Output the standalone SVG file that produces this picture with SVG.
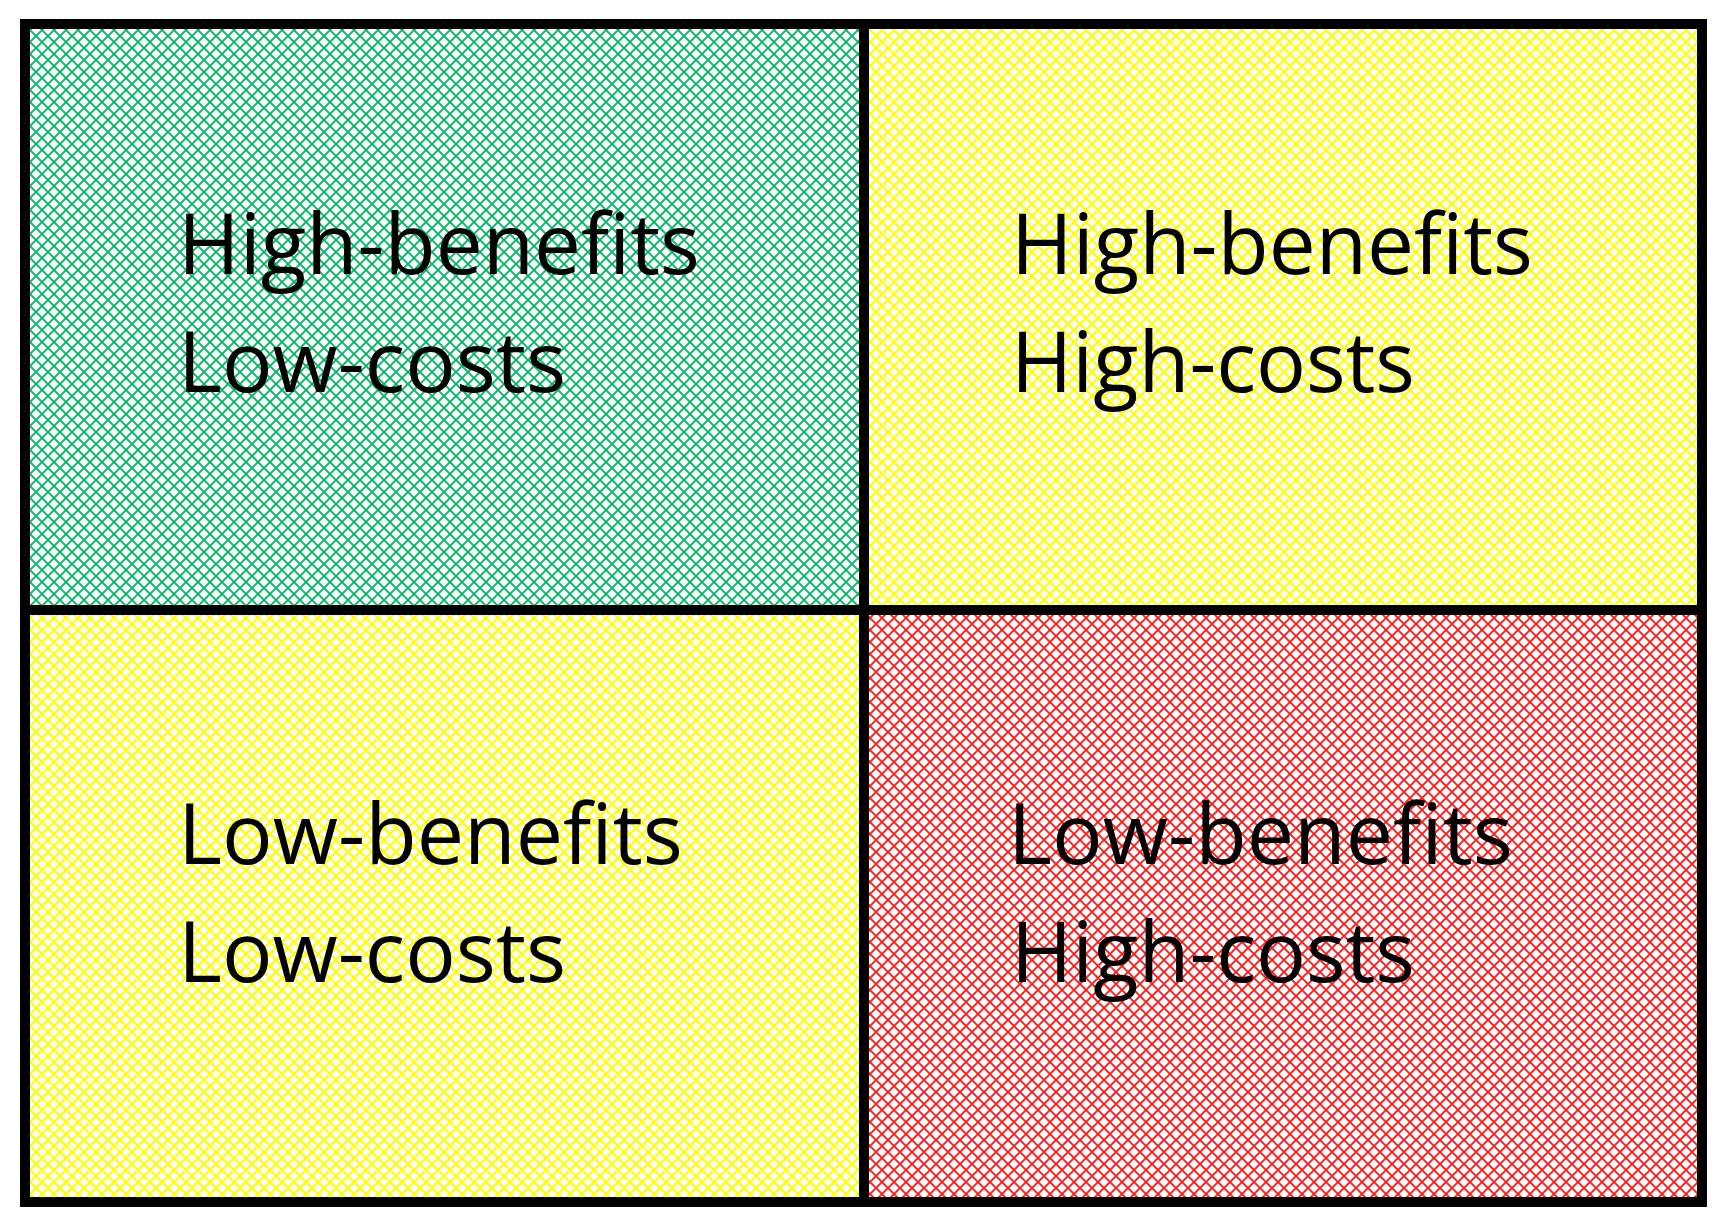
<svg xmlns="http://www.w3.org/2000/svg" width="1728" height="1227" viewBox="0 0 1728 1227">
  <style>
    .lbl { font-family: "Open Sans", "Liberation Sans", sans-serif; font-size: 84px; fill: #000000; }
    .line { stroke: #000000; stroke-width: 10; fill: none; }
  </style>
  <defs>
    <pattern id="pGreen" width="12" height="12" patternUnits="userSpaceOnUse">
      <rect width="12" height="12" fill="#ffffff"/>
      <path d="M-1,-1 L13,13 M13,-1 L-1,13" stroke="#00b865" stroke-width="1.9"/>
    </pattern>
    <pattern id="pYellow" width="12" height="12" patternUnits="userSpaceOnUse">
      <rect width="12" height="12" fill="#ffffff"/>
      <path d="M-1,-1 L13,13 M13,-1 L-1,13" stroke="#ffff00" stroke-width="2.1"/>
    </pattern>
    <pattern id="pRed" width="12" height="12" patternUnits="userSpaceOnUse">
      <rect width="12" height="12" fill="#ffffff"/>
      <path d="M-1,-1 L13,13 M13,-1 L-1,13" stroke="#ff1a1a" stroke-width="1.9"/>
    </pattern>
  </defs>
  <rect width="1728" height="1227" fill="#ffffff"/>

  <g id="quadrant-high-benefits-low-costs">
    <rect x="25" y="24" width="839" height="586" fill="url(#pGreen)"/>
    <text class="lbl" x="178" y="274" textLength="522" lengthAdjust="spacingAndGlyphs">High-benefits</text>
    <text class="lbl" x="178" y="392" textLength="388" lengthAdjust="spacingAndGlyphs">Low-costs</text>
  </g>

  <g id="quadrant-high-benefits-high-costs">
    <rect x="864" y="24" width="838" height="586" fill="url(#pYellow)"/>
    <text class="lbl" x="1011" y="274" textLength="522" lengthAdjust="spacingAndGlyphs">High-benefits</text>
    <text class="lbl" x="1011" y="392" textLength="404" lengthAdjust="spacingAndGlyphs">High-costs</text>
  </g>

  <g id="quadrant-low-benefits-low-costs">
    <rect x="25" y="610" width="839" height="592" fill="url(#pYellow)"/>
    <text class="lbl" x="178" y="864" textLength="505" lengthAdjust="spacingAndGlyphs">Low-benefits</text>
    <text class="lbl" x="178" y="982" textLength="388" lengthAdjust="spacingAndGlyphs">Low-costs</text>
  </g>

  <g id="quadrant-low-benefits-high-costs">
    <rect x="864" y="610" width="838" height="592" fill="url(#pRed)"/>
    <text class="lbl" x="1008" y="864" textLength="505" lengthAdjust="spacingAndGlyphs">Low-benefits</text>
    <text class="lbl" x="1011" y="982" textLength="404" lengthAdjust="spacingAndGlyphs">High-costs</text>
  </g>

  <g id="grid-lines">
    <rect class="line" x="25" y="24" width="1677" height="1178"/>
    <line class="line" x1="864" y1="24" x2="864" y2="1202"/>
    <line class="line" x1="25" y1="610" x2="1702" y2="610"/>
  </g>
</svg>
